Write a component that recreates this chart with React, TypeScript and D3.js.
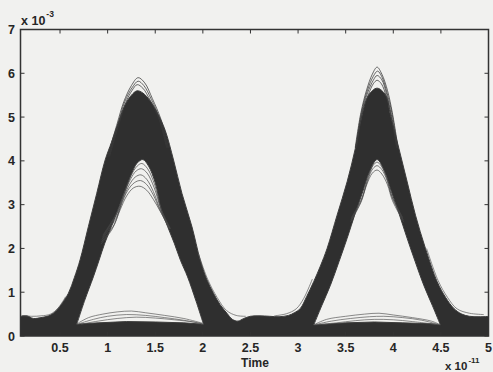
import React from "react";
import * as d3 from "d3";

type P = [number, number];

// axes (time in 1e-11 s, amplitude in 1e-3)
const TIME_DOMAIN: P = [0.085, 5];
const AMP_DOMAIN: P = [0, 7];
const xTickValues = [0.5, 1, 1.5, 2, 2.5, 3, 3.5, 4, 4.5, 5];
const xTickLabels = ["0.5", "1", "1.5", "2", "2.5", "3", "3.5", "4", "4.5", "5"];
const yTickValues = [0, 1, 2, 3, 4, 5, 6, 7];
const yTickLabels = ["0", "1", "2", "3", "4", "5", "6", "7"];

// dense envelope of all traces (upper boundary)
const bandTop: P[] = [
  [0.06, 0.44], [0.15, 0.46], [0.22, 0.4], [0.3, 0.42], [0.38, 0.46], [0.43, 0.52], [0.5, 0.68],
  [0.588, 0.975], [0.65, 1.33], [0.711, 1.74], [0.798, 2.5], [0.886, 3.26], [0.974, 4.02],
  [1.04, 4.42], [1.097, 4.78], [1.184, 5.28], [1.25, 5.5], [1.31, 5.6], [1.37, 5.55],
  [1.45, 5.36], [1.53, 5.06], [1.604, 4.7], [1.692, 4.02], [1.78, 3.26], [1.885, 2.5],
  [1.972, 1.74], [2.04, 1.3], [2.112, 0.975], [2.18, 0.72], [2.253, 0.52], [2.31, 0.38],
  [2.37, 0.34], [2.43, 0.4], [2.5, 0.45], [2.6, 0.46], [2.7, 0.45], [2.8, 0.44], [2.9, 0.47],
  [2.96, 0.53], [3.024, 0.63], [3.09, 0.9], [3.164, 1.24], [3.235, 1.6], [3.305, 2.0],
  [3.41, 2.76], [3.515, 3.52], [3.602, 4.29], [3.673, 5.05], [3.74, 5.5], [3.83, 5.66],
  [3.92, 5.5], [3.97, 5.05], [4.058, 4.29], [4.146, 3.52], [4.233, 2.76], [4.338, 2.0],
  [4.461, 1.24], [4.55, 0.88], [4.636, 0.63], [4.72, 0.5], [4.8, 0.45], [4.9, 0.44], [5.05, 0.45],
];

// open eye under pulse 1
const hole1Arc: P[] = [
  [0.676, 0.27], [0.76, 0.82], [0.85, 1.35], [0.91, 1.73], [0.97, 2.12], [1.04, 2.5],
  [1.11, 2.9], [1.18, 3.3], [1.25, 3.7], [1.31, 3.95], [1.37, 4.03], [1.43, 3.88],
  [1.5, 3.5], [1.565, 2.88], [1.63, 2.5], [1.7, 2.12], [1.765, 1.73], [1.84, 1.35],
  [1.925, 0.82], [2.007, 0.27],
];
const hole1Floor: P[] = [[2.007, 0.27], [1.8, 0.3], [1.5, 0.32], [1.2, 0.33], [0.9, 0.3], [0.676, 0.27]];

// open eye under pulse 2
const hole2Arc: P[] = [
  [3.164, 0.25], [3.25, 0.7], [3.34, 1.16], [3.43, 1.7], [3.515, 2.23], [3.6, 2.8],
  [3.68, 3.3], [3.75, 3.75], [3.83, 4.03], [3.91, 3.75], [3.98, 3.3], [4.06, 2.8],
  [4.146, 2.23], [4.23, 1.7], [4.32, 1.16], [4.41, 0.7], [4.496, 0.25],
];
const hole2Floor: P[] = [[4.496, 0.25], [4.4, 0.28], [4.1, 0.3], [3.8, 0.32], [3.5, 0.3], [3.164, 0.25]];

// individual traces that stand out of the dense band
const peak1Traces: P[][] = [
  [[1.0, 4.1], [1.1, 4.85], [1.17, 5.35], [1.25, 5.72], [1.32, 5.9], [1.39, 5.78], [1.47, 5.42], [1.56, 4.95], [1.64, 4.3]],
  [[1.01, 4.1], [1.11, 4.85], [1.18, 5.35], [1.26, 5.68], [1.32, 5.82], [1.38, 5.72], [1.46, 5.4], [1.55, 4.95], [1.63, 4.3]],
  [[1.02, 4.1], [1.12, 4.85], [1.19, 5.33], [1.26, 5.62], [1.31, 5.74], [1.37, 5.66], [1.45, 5.37], [1.54, 4.95], [1.62, 4.3]],
];
const peak2Traces: P[][] = [
  [[3.6, 4.3], [3.66, 5.1], [3.72, 5.62], [3.78, 5.98], [3.83, 6.14], [3.88, 5.98], [3.94, 5.6], [3.99, 5.1], [4.05, 4.3]],
  [[3.605, 4.3], [3.665, 5.1], [3.73, 5.62], [3.79, 5.93], [3.835, 6.05], [3.88, 5.92], [3.935, 5.55], [3.985, 5.1], [4.045, 4.3]],
  [[3.61, 4.3], [3.67, 5.1], [3.73, 5.55], [3.79, 5.84], [3.83, 5.95], [3.88, 5.85], [3.93, 5.52], [3.98, 5.05], [4.04, 4.3]],
  [[3.615, 4.3], [3.675, 5.1], [3.74, 5.52], [3.79, 5.76], [3.83, 5.84], [3.875, 5.76], [3.925, 5.48], [3.975, 5.05], [4.035, 4.3]],
];
const inner1Traces: P[][] = [
  [[0.93, 2.1], [1.05, 2.45], [1.131, 2.88], [1.2, 3.2], [1.27, 3.38], [1.34, 3.42], [1.41, 3.33], [1.48, 3.12], [1.552, 2.85], [1.65, 2.45]],
  [[0.935, 2.15], [1.07, 2.55], [1.14, 2.98], [1.21, 3.32], [1.28, 3.5], [1.345, 3.55], [1.41, 3.46], [1.48, 3.22], [1.555, 2.85], [1.65, 2.45]],
  [[0.94, 2.2], [1.09, 2.7], [1.16, 3.12], [1.23, 3.46], [1.29, 3.63], [1.35, 3.68], [1.41, 3.58], [1.48, 3.3], [1.56, 2.85], [1.655, 2.45]],
  [[0.945, 2.25], [1.1, 2.8], [1.17, 3.22], [1.24, 3.58], [1.3, 3.77], [1.355, 3.82], [1.415, 3.72], [1.49, 3.38], [1.56, 2.9], [1.655, 2.45]],
  [[0.95, 2.3], [1.105, 2.85], [1.175, 3.28], [1.245, 3.66], [1.31, 3.88], [1.36, 3.94], [1.42, 3.82], [1.495, 3.45], [1.562, 2.9], [1.66, 2.45]],
];
const inner2Traces: P[][] = [
  [[3.55, 2.6], [3.66, 3.05], [3.72, 3.45], [3.78, 3.72], [3.83, 3.79], [3.88, 3.7], [3.94, 3.45], [3.99, 3.1], [4.11, 2.6]],
  [[3.555, 2.65], [3.665, 3.1], [3.73, 3.55], [3.785, 3.82], [3.83, 3.89], [3.88, 3.8], [3.935, 3.55], [3.99, 3.15], [4.105, 2.65]],
  [[3.56, 2.7], [3.67, 3.15], [3.735, 3.62], [3.79, 3.9], [3.83, 3.97], [3.875, 3.88], [3.93, 3.62], [3.985, 3.2], [4.1, 2.7]],
];
const floorTraces: P[][] = [
  [[0.68, 0.28], [0.8, 0.42], [0.95, 0.5], [1.1, 0.55], [1.25, 0.57], [1.4, 0.53], [1.6, 0.47], [1.8, 0.4], [2.0, 0.29]],
  [[0.7, 0.28], [0.85, 0.38], [1.0, 0.45], [1.2, 0.49], [1.4, 0.47], [1.6, 0.42], [1.8, 0.36], [1.99, 0.28]],
  [[0.72, 0.27], [0.9, 0.34], [1.1, 0.4], [1.3, 0.43], [1.5, 0.41], [1.7, 0.37], [1.9, 0.32], [1.99, 0.28]],
  [[3.17, 0.26], [3.3, 0.38], [3.5, 0.45], [3.7, 0.5], [3.85, 0.52], [4.0, 0.48], [4.2, 0.42], [4.4, 0.34], [4.49, 0.26]],
  [[3.18, 0.26], [3.35, 0.34], [3.55, 0.4], [3.75, 0.44], [3.9, 0.45], [4.1, 0.42], [4.3, 0.36], [4.48, 0.26]],
  [[3.2, 0.26], [3.4, 0.3], [3.6, 0.35], [3.8, 0.38], [4.0, 0.37], [4.2, 0.33], [4.47, 0.26]],
];
const edgeTraces: P[][] = [
  [[1.95, 1.9], [2.05, 1.3], [2.15, 0.88], [2.25, 0.58], [2.35, 0.47], [2.45, 0.45]],
  [[4.35, 2.0], [4.47, 1.27], [4.57, 0.88], [4.67, 0.62], [4.8, 0.52], [4.95, 0.49]],
  [[2.75, 0.46], [2.88, 0.51], [2.98, 0.62], [3.06, 0.86], [3.15, 1.3]],
  [[0.1, 0.47], [0.2, 0.45], [0.3, 0.46], [0.4, 0.5], [0.48, 0.64], [0.56, 0.9]],
];

const W = 493;
const H = 372;
const left = 20.5, right = 488.5, top = 29.5, bottom = 336;

export default function App() {
  const x = d3.scaleLinear().domain(TIME_DOMAIN).range([left, right]);
  const y = d3.scaleLinear().domain(AMP_DOMAIN).range([bottom, top]);
  const line = d3
    .line<P>()
    .x((d) => x(d[0]))
    .y((d) => y(d[1]))
    .curve(d3.curveCatmullRom.alpha(0.5));
  const lin = d3
    .line<P>()
    .x((d) => x(d[0]))
    .y((d) => y(d[1]));

  const bandPath =
    (line(bandTop) as string) + `L${x(5.05)},${bottom + 2}L${x(0.06)},${bottom + 2}Z`;
  const hole = (arc: P[], floor: P[]) =>
    (line(arc) as string) + (lin(floor) as string).replace(/^M/, "L") + "Z";
  const fullPath = bandPath + hole(hole1Arc, hole1Floor) + hole(hole2Arc, hole2Floor);

  const font = "'Liberation Sans', Arial, Helvetica, sans-serif";
  const traceGroups: [P[][], string, number][] = [
    [peak1Traces, "#3a3a3a", 0.9],
    [peak2Traces, "#3a3a3a", 0.9],
    [inner1Traces, "#4a4a4a", 0.85],
    [inner2Traces, "#4a4a4a", 0.85],
    [floorTraces, "#555", 0.8],
    [edgeTraces, "#555", 0.8],
  ];

  return (
    <svg
      width={W}
      height={H}
      style={{ position: "absolute", left: 0, top: 0, display: "block" }}
    >
      <rect x={0} y={0} width={W} height={H} fill="#f1f1ef" />
      <defs>
        <clipPath id="plotClip">
          <rect x={left} y={top} width={right - left} height={bottom - top} />
        </clipPath>
      </defs>
      <g clipPath="url(#plotClip)">
        <path d={fullPath} fill="#2f2f2f" fillRule="evenodd" stroke="#3c3c3c" strokeWidth={1} />
        {traceGroups.map(([group, color, w], gi) =>
          group.map((t, i) => (
            <path
              key={`${gi}-${i}`}
              d={line(t) as string}
              fill="none"
              stroke={color}
              strokeWidth={w}
              strokeOpacity={0.85}
            />
          ))
        )}
      </g>
      {/* box */}
      <rect
        x={left}
        y={top}
        width={right - left}
        height={bottom - top}
        fill="none"
        stroke="#333"
        strokeWidth={1.5}
      />
      {/* ticks */}
      {xTickValues.map((v) => (
        <g key={`xt${v}`}>
          <line x1={x(v)} x2={x(v)} y1={bottom} y2={bottom - 4} stroke="#333" strokeWidth={1} />
          <line x1={x(v)} x2={x(v)} y1={top} y2={top + 4} stroke="#333" strokeWidth={1} />
        </g>
      ))}
      {yTickValues.map((v) => (
        <g key={`yt${v}`}>
          <line x1={left} x2={left + 4} y1={y(v)} y2={y(v)} stroke="#333" strokeWidth={1} />
          <line x1={right} x2={right - 4} y1={y(v)} y2={y(v)} stroke="#333" strokeWidth={1} />
        </g>
      ))}
      {/* tick labels */}
      <g fontFamily={font} fontSize={12.5} fontWeight="bold" fill="#262626">
        {xTickValues.map((v, i) => (
          <text key={`xl${v}`} x={x(v)} y={352} textAnchor="middle">
            {xTickLabels[i]}
          </text>
        ))}
        {yTickValues.map((v, i) => (
          <text key={`yl${v}`} x={15} y={y(v)} dy="0.36em" textAnchor="end">
            {yTickLabels[i]}
          </text>
        ))}
        <text x={255} y={367} textAnchor="middle" fontSize={12}>
          Time
        </text>
        <text x={21} y={25} fontSize={12.5}>
          x 10
          <tspan dx={1} dy={-8} fontSize={8.5}>
            -3
          </tspan>
        </text>
        <text x={445} y={370} fontSize={11.5}>
          x 10
          <tspan dx={1} dy={-7} fontSize={8}>
            -11
          </tspan>
        </text>
      </g>
    </svg>
  );
}
